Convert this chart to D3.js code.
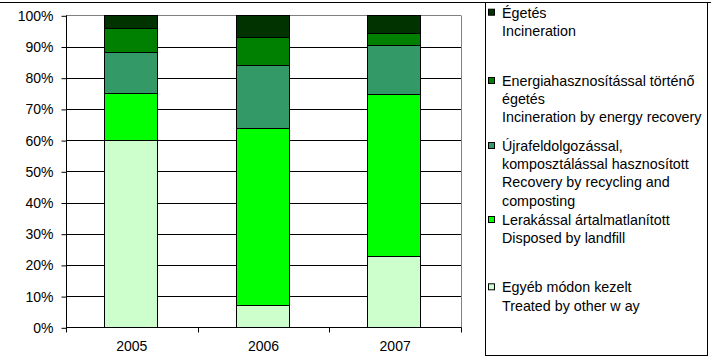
<!DOCTYPE html>
<html>
<head>
<meta charset="utf-8">
<script src="https://cdn.jsdelivr.net/npm/d3@7"></script>
<style>
	body { margin: 0; background: #fff; }
	svg { display: block; font-family: 'Liberation Sans', Arial, sans-serif; }
</style>
</head>
<body>
<svg id="chart" width="711" height="362"></svg>
<script>
// Data (percent of treated waste)
const years = ['2005', '2006', '2007'];
const other = [60.0, 7.3, 22.7];
const landfill = [15.2, 56.7, 52.1];
const recycling = [13.1, 20.2, 15.8];
const energy = [7.6, 8.8, 3.7];
const incineration = [4.1, 7.0, 5.7];
const yTicks = [0, 10, 20, 30, 40, 50, 60, 70, 80, 90, 100];

const seriesKeys = ['other', 'landfill', 'recycling', 'energy', 'incineration'];
const seriesColors = ['#ccffcc', '#00ff00', '#339966', '#008000', '#003300'];
const legendLabels = [
	['Égetés', 'Incineration'],
	['Energiahasznosítással történő', 'égetés', 'Incineration by energy recovery'],
	['Újrafeldolgozással,', 'komposztálással hasznosított', 'Recovery by recycling and', 'composting'],
	['Lerakással ártalmatlanított', 'Disposed by landfill'],
	['Egyéb módon kezelt', 'Treated by other w ay'],
];
const legendOrder = ['incineration', 'energy', 'recycling', 'landfill', 'other'];

const table = years.map((y, i) => ({
	year: y,
	other: other[i],
	landfill: landfill[i],
	recycling: recycling[i],
	energy: energy[i],
	incineration: incineration[i],
}));

const svg = d3.select('#chart');
const plot = { left: 66, right: 461, top: 15.3, bottom: 327.3 };
const fontSize = '14px';

const xScale = d3.scaleBand()
	.domain(years)
	.range([plot.left, plot.right])
	.paddingInner(0.6)
	.paddingOuter(0.3);
const yScale = d3.scaleLinear().domain([0, 100]).range([plot.bottom, plot.top]);
const color = d3.scaleOrdinal().domain(seriesKeys).range(seriesColors);

// outer frame line at top
svg.append('line')
	.attr('x1', 0).attr('x2', 711)
	.attr('y1', 2.5).attr('y2', 2.5)
	.attr('stroke', '#000');

// gridlines (top one is the grey plot border)
svg.append('g')
	.selectAll('line')
	.data(yTicks.filter(t => t > 0))
	.join('line')
	.attr('x1', plot.left)
	.attr('x2', plot.right)
	.attr('y1', d => Math.round(yScale(d)) + 0.5)
	.attr('y2', d => Math.round(yScale(d)) + 0.5)
	.attr('stroke', d => (d === 100 ? '#808080' : '#000'));

// right plot border
svg.append('line')
	.attr('x1', plot.right + 0.5).attr('x2', plot.right + 0.5)
	.attr('y1', Math.round(yScale(100)) + 0.5).attr('y2', Math.round(yScale(0)) + 0.5)
	.attr('stroke', '#808080');

// stacked bars
const stacked = d3.stack().keys(seriesKeys)(table);
svg.append('g')
	.selectAll('g')
	.data(stacked)
	.join('g')
	.attr('fill', d => color(d.key))
	.selectAll('rect')
	.data(d => d)
	.join('rect')
	.attr('x', d => Math.floor(xScale(d.data.year)) - 0.5)
	.attr('width', Math.round(xScale.bandwidth()))
	.attr('y', d => Math.round(yScale(d[1])) + 0.5)
	.attr('height', d => Math.round(yScale(d[0])) - Math.round(yScale(d[1])))
	.attr('stroke', '#000')
	.attr('stroke-width', 1);

// y axis
const yAxis = d3.axisLeft(yScale)
	.tickValues(yTicks)
	.tickSize(5)
	.tickFormat(d => d + '%');
const yG = svg.append('g')
	.attr('transform', `translate(${plot.left + 0.5},0.5)`)
	.call(yAxis);
yG.select('.domain').attr('stroke', '#000').attr('d', `M0,${yScale(100) - 0.5}V${yScale(0) - 0.5}`);
yG.selectAll('.tick line').attr('stroke', '#000');
yG.selectAll('.tick text')
	.attr('x', -13)
	.attr('fill', '#000')
	.style('font-size', fontSize)
	.style('font-family', "'Liberation Sans', Arial, sans-serif");

// x axis with ticks on category boundaries
const xAxis = d3.axisBottom(xScale).tickSize(0).tickPadding(14);
const xG = svg.append('g')
	.attr('transform', `translate(0,${Math.round(plot.bottom) + 0.5})`)
	.call(xAxis);
xG.select('.domain').attr('stroke', '#000').attr('d', `M${plot.left},0H${plot.right + 0.5}`);
xG.selectAll('.tick text')
	.attr('fill', '#000')
	.style('font-size', fontSize)
	.style('font-family', "'Liberation Sans', Arial, sans-serif");
const step = xScale.step();
xG.append('g')
	.selectAll('line')
	.data(d3.range(years.length + 1))
	.join('line')
	.attr('x1', i => Math.round(plot.left + i * step) + 0.5)
	.attr('x2', i => Math.round(plot.left + i * step) + 0.5)
	.attr('y1', 0)
	.attr('y2', 5)
	.attr('stroke', '#000');

// legend
svg.append('rect')
	.attr('x', 485.5).attr('y', 2.5)
	.attr('width', 222).attr('height', 353)
	.attr('fill', '#fff')
	.attr('stroke', '#000');

const legendY = [12.7, 81, 146, 220, 287.3];
const lineH = 18.2;
const legend = svg.append('g')
	.selectAll('g')
	.data(legendOrder)
	.join('g')
	.attr('transform', (d, i) => `translate(0,${legendY[i]})`);
legend.append('rect')
	.attr('x', 488.5).attr('y', -3.5)
	.attr('width', 6).attr('height', 6)
	.attr('fill', d => color(d))
	.attr('stroke', '#000');
legend.each(function (d, i) {
	d3.select(this)
		.selectAll('text')
		.data(legendLabels[i])
		.join('text')
		.attr('x', 502)
		.attr('y', (t, j) => j * lineH)
		.attr('dy', '0.35em')
		.attr('fill', '#000')
		.style('font-size', '14.3px')
		.text(t => t);
});
</script>
</body>
</html>
